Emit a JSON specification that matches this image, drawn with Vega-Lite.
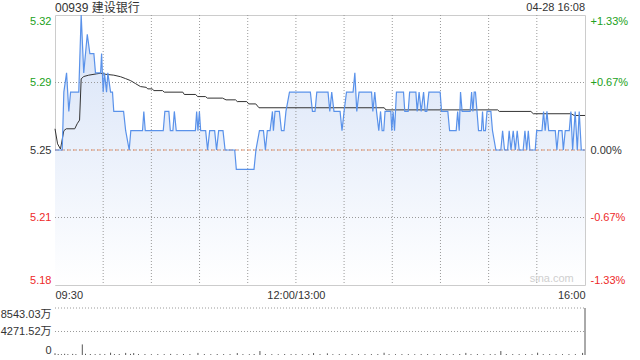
{
  "$schema": "https://vega.github.io/schema/vega-lite/v6.json",
  "padding": {"left": 0, "top": 1, "right": 4, "bottom": 2},
  "background": "white",
  "config": {
    "font": "Liberation Sans, Noto Sans CJK SC",
    "axis": {"labelFont": "Liberation Sans, Noto Sans CJK SC", "labelFontSize": 11, "labelColor": "#333333", "ticks": false, "domain": false, "grid": false, "title": null, "labelOverlap": false},
    "view": {"stroke": "#cccccc"}
  },
  "datasets": {
    "gx": [{"t":30},{"t":60},{"t":90},{"t":120},{"t":150},{"t":180},{"t":210},{"t":240},{"t":270},{"t":300}],
    "gy": [{"g":5.215},{"g":5.25},{"g":5.285}],
    "gv": [{"g":4271.52},{"g":8543.03}],
    "price": [
      {"t":0,"p":5.25},{"t":4.5,"p":5.25},{"t":5.5,"p":5.28},{"t":7.2,"p":5.29},{"t":8.6,"p":5.27},{"t":9.7,"p":5.28},{"t":14.8,"p":5.28},{"t":16.3,"p":5.32},{"t":17.9,"p":5.29},{"t":20.1,"p":5.31},{"t":21.7,"p":5.30},{"t":24.2,"p":5.30},{"t":25.2,"p":5.29},{"t":28.4,"p":5.29},{"t":29.0,"p":5.30},{"t":30.0,"p":5.28},{"t":30.8,"p":5.29},{"t":32.1,"p":5.28},{"t":32.9,"p":5.29},{"t":34.6,"p":5.28},{"t":35.8,"p":5.28},{"t":36.6,"p":5.27},{"t":42.7,"p":5.27},{"t":44.0,"p":5.26},{"t":46.2,"p":5.25},{"t":47.2,"p":5.26},{"t":54.5,"p":5.26},{"t":55.3,"p":5.27},{"t":56.2,"p":5.26},{"t":67.4,"p":5.26},{"t":68.4,"p":5.27},{"t":70.9,"p":5.27},{"t":71.8,"p":5.26},{"t":73.4,"p":5.26},{"t":74.3,"p":5.27},{"t":75.5,"p":5.26},{"t":87.4,"p":5.26},{"t":88.2,"p":5.27},{"t":89.0,"p":5.26},{"t":89.9,"p":5.27},{"t":90.7,"p":5.26},{"t":93.8,"p":5.26},{"t":95.0,"p":5.25},{"t":96.3,"p":5.26},{"t":99.4,"p":5.26},{"t":100.6,"p":5.25},{"t":101.9,"p":5.26},{"t":104.6,"p":5.26},{"t":105.9,"p":5.25},{"t":111.9,"p":5.25},{"t":112.9,"p":5.24},{"t":123.9,"p":5.24},{"t":125.1,"p":5.25},{"t":127.3,"p":5.26},{"t":129.8,"p":5.26},{"t":131.0,"p":5.25},{"t":132.2,"p":5.26},{"t":133.9,"p":5.26},{"t":135.4,"p":5.27},{"t":136.0,"p":5.26},{"t":137.0,"p":5.27},{"t":139.7,"p":5.27},{"t":141.0,"p":5.26},{"t":142.6,"p":5.26},{"t":143.8,"p":5.27},{"t":146.0,"p":5.28},{"t":159.0,"p":5.28},{"t":160.3,"p":5.27},{"t":161.9,"p":5.27},{"t":163.0,"p":5.28},{"t":170.0,"p":5.28},{"t":171.1,"p":5.27},{"t":172.3,"p":5.28},{"t":173.7,"p":5.27},{"t":177.5,"p":5.27},{"t":178.7,"p":5.26},{"t":180.0,"p":5.27},{"t":181.5,"p":5.28},{"t":185.6,"p":5.28},{"t":186.7,"p":5.29},{"t":187.9,"p":5.27},{"t":189.3,"p":5.28},{"t":197.1,"p":5.28},{"t":197.9,"p":5.27},{"t":199.1,"p":5.28},{"t":200.2,"p":5.27},{"t":201.6,"p":5.26},{"t":202.7,"p":5.27},{"t":203.7,"p":5.26},{"t":204.7,"p":5.26},{"t":205.5,"p":5.27},{"t":209.1,"p":5.27},{"t":209.7,"p":5.26},{"t":210.5,"p":5.27},{"t":211.4,"p":5.26},{"t":212.6,"p":5.28},{"t":217.0,"p":5.28},{"t":217.8,"p":5.27},{"t":219.9,"p":5.27},{"t":220.8,"p":5.28},{"t":224.7,"p":5.28},{"t":225.5,"p":5.27},{"t":226.7,"p":5.28},{"t":228.0,"p":5.27},{"t":229.5,"p":5.28},{"t":230.5,"p":5.27},{"t":231.5,"p":5.27},{"t":232.8,"p":5.28},{"t":239.8,"p":5.28},{"t":240.7,"p":5.27},{"t":244.6,"p":5.27},{"t":245.7,"p":5.26},{"t":249.8,"p":5.26},{"t":250.7,"p":5.27},{"t":251.7,"p":5.26},{"t":252.5,"p":5.28},{"t":253.5,"p":5.27},{"t":258.5,"p":5.27},{"t":259.4,"p":5.28},{"t":260.2,"p":5.27},{"t":261.0,"p":5.28},{"t":261.8,"p":5.28},{"t":263.7,"p":5.26},{"t":265.5,"p":5.26},{"t":266.2,"p":5.27},{"t":266.9,"p":5.26},{"t":268.0,"p":5.26},{"t":269.0,"p":5.27},{"t":271.4,"p":5.27},{"t":272.4,"p":5.26},{"t":274.5,"p":5.25},{"t":277.6,"p":5.25},{"t":278.7,"p":5.26},{"t":279.9,"p":5.25},{"t":281.8,"p":5.25},{"t":282.8,"p":5.26},{"t":283.9,"p":5.25},{"t":285.3,"p":5.26},{"t":286.6,"p":5.25},{"t":287.8,"p":5.26},{"t":289.0,"p":5.25},{"t":291.5,"p":5.25},{"t":292.6,"p":5.26},{"t":293.7,"p":5.25},{"t":294.7,"p":5.26},{"t":295.7,"p":5.25},{"t":299.0,"p":5.25},{"t":299.9,"p":5.26},{"t":303.2,"p":5.26},{"t":304.2,"p":5.27},{"t":305.2,"p":5.26},{"t":306.3,"p":5.27},{"t":307.4,"p":5.26},{"t":311.5,"p":5.26},{"t":312.5,"p":5.25},{"t":313.6,"p":5.26},{"t":315.7,"p":5.26},{"t":316.5,"p":5.25},{"t":317.7,"p":5.26},{"t":320.2,"p":5.26},{"t":321.2,"p":5.27},{"t":322.3,"p":5.25},{"t":323.9,"p":5.27},{"t":325.2,"p":5.25},{"t":326.4,"p":5.27},{"t":327.7,"p":5.25},{"t":330,"p":5.25}
    ],
    "avg": [
      {"t":0,"a":5.261},{"t":1.6,"a":5.2532},{"t":3.4,"a":5.2505},{"t":5.5,"a":5.260},{"t":7,"a":5.261},{"t":12.3,"a":5.261},{"t":13.8,"a":5.2636},{"t":15.3,"a":5.2655},{"t":16.3,"a":5.2869},{"t":17.9,"a":5.2881},{"t":21,"a":5.2888},{"t":26,"a":5.2895},{"t":28.4,"a":5.2898},{"t":31,"a":5.2893},{"t":36.6,"a":5.2888},{"t":40.8,"a":5.288},{"t":44,"a":5.287},{"t":47,"a":5.286},{"t":50,"a":5.2845},{"t":53.2,"a":5.2829},{"t":56.7,"a":5.2825},{"t":57.8,"a":5.2817},{"t":60.6,"a":5.2817},{"t":61.5,"a":5.2808},{"t":67,"a":5.2808},{"t":68,"a":5.28},{"t":79.6,"a":5.28},{"t":80.5,"a":5.2788},{"t":87.6,"a":5.2788},{"t":88.8,"a":5.2777},{"t":93.7,"a":5.2777},{"t":94.9,"a":5.2769},{"t":104.3,"a":5.2769},{"t":106.5,"a":5.276},{"t":112.4,"a":5.276},{"t":113.5,"a":5.2751},{"t":119.4,"a":5.2751},{"t":120.6,"a":5.2739},{"t":125,"a":5.2739},{"t":127,"a":5.2719},{"t":205,"a":5.2719},{"t":206,"a":5.2708},{"t":275.6,"a":5.2708},{"t":276.6,"a":5.27},{"t":296.3,"a":5.27},{"t":297.8,"a":5.2688},{"t":321.3,"a":5.2688},{"t":323.3,"a":5.2679},{"t":330,"a":5.2679}
    ],
    "vol": [
      {"t":0,"v":320},{"t":2,"v":180},{"t":4,"v":150},{"t":6,"v":220},{"t":8,"v":160},{"t":11,"v":200},{"t":13,"v":170},{"t":17,"v":1925},{"t":19,"v":220},{"t":22,"v":180},{"t":25,"v":160},{"t":28,"v":200},{"t":31,"v":170},{"t":34.6,"v":420},{"t":37,"v":160},{"t":40,"v":180},{"t":44,"v":380},{"t":47,"v":200},{"t":49,"v":350},{"t":52,"v":160},{"t":56,"v":180},{"t":60,"v":150},{"t":64,"v":170},{"t":68,"v":160},{"t":72,"v":200},{"t":76,"v":150},{"t":80,"v":170},{"t":84,"v":160},{"t":89,"v":380},{"t":93,"v":170},{"t":97,"v":150},{"t":101,"v":180},{"t":105,"v":160},{"t":109,"v":170},{"t":113.5,"v":350},{"t":117,"v":160},{"t":121,"v":150},{"t":124,"v":180},{"t":127.6,"v":720},{"t":131,"v":170},{"t":135,"v":160},{"t":139,"v":150},{"t":143,"v":180},{"t":147,"v":160},{"t":150,"v":170},{"t":154,"v":160},{"t":158,"v":150},{"t":161,"v":350},{"t":165,"v":160},{"t":169.6,"v":300},{"t":173,"v":150},{"t":177,"v":170},{"t":181,"v":160},{"t":185,"v":180},{"t":189,"v":150},{"t":193,"v":170},{"t":197,"v":160},{"t":201,"v":170},{"t":204.9,"v":410},{"t":208,"v":160},{"t":212,"v":150},{"t":216,"v":170},{"t":220,"v":160},{"t":224,"v":150},{"t":228,"v":170},{"t":232,"v":160},{"t":236,"v":150},{"t":240,"v":160},{"t":244,"v":170},{"t":248,"v":160},{"t":252,"v":180},{"t":255.8,"v":380},{"t":259,"v":160},{"t":263,"v":170},{"t":267,"v":150},{"t":271,"v":160},{"t":274,"v":170},{"t":277.6,"v":720},{"t":281,"v":180},{"t":285,"v":160},{"t":289,"v":170},{"t":293,"v":160},{"t":297,"v":150},{"t":300.5,"v":420},{"t":304,"v":160},{"t":308,"v":170},{"t":312,"v":160},{"t":316,"v":150},{"t":320,"v":170},{"t":324,"v":160},{"t":328.5,"v":380},{"t":330,"v":8543.03}
    ]
  },
  "bounds": "flush",
  "spacing": 23,
  "resolve": {"scale": {"x": "independent"}, "axis": {"x": "independent"}},
  "vconcat": [
    {
      "width": 530,
      "height": 270,
      "resolve": {"scale": {"y": "independent"}},
      "layer": [
        {
          "data": {"name": "price"},
          "mark": {"type": "area", "color": {"gradient": "linear", "x1": 0, "y1": 0, "x2": 0, "y2": 1, "stops": [{"offset": 0, "color": "#d6e2f7"}, {"offset": 1, "color": "#ffffff"}]}},
          "encoding": {
            "x": {"field": "t", "type": "quantitative", "scale": {"domain": [0, 330], "nice": false, "zero": false},
              "axis": {"values": [0, 150, 330], "labelExpr": "datum.value == 0 ? '09:30' : datum.value == 150 ? '12:00/13:00' : '16:00'", "labelFlush": true, "labelPadding": 4}},
            "y": {"field": "p", "type": "quantitative", "scale": {"domain": [5.18, 5.32], "nice": false, "zero": false},
              "axis": {"orient": "left", "values": [5.18, 5.215, 5.25, 5.285, 5.32], "labelExpr": "datum.value > 5.3 ? '5.32' : datum.value > 5.27 ? '5.29' : datum.value > 5.24 ? '5.25' : datum.value > 5.2 ? '5.21' : '5.18'", "labelFlush": true, "labelPadding": 4,
                "labelColor": {"condition": [{"test": "datum.value > 5.251", "value": "#21a121"}, {"test": "datum.value < 5.249", "value": "#ee2a2a"}], "value": "#333333"}}},
            "y2": {"datum": 5.18}
          }
        },
        {
          "data": {"name": "gx"},
          "mark": {"type": "rule", "color": "#9a9a9a", "strokeDash": [1, 2], "strokeWidth": 1},
          "encoding": {"x": {"field": "t", "type": "quantitative"}}
        },
        {
          "data": {"name": "gy"},
          "mark": {"type": "rule", "color": "#9a9a9a", "strokeDash": [1, 2], "strokeWidth": 1},
          "encoding": {
            "x": {"datum": 0, "type": "quantitative"},
            "x2": {"datum": 330},
            "y": {"field": "g", "type": "quantitative", "scale": {"domain": [5.18, 5.32], "nice": false, "zero": false}, "axis": null}
          }
        },
        {
          "data": {"values": [{}]},
          "mark": {"type": "rule", "color": "#e8956f", "strokeDash": [3, 3], "strokeWidth": 1},
          "encoding": {
            "x": {"datum": 0, "type": "quantitative"},
            "x2": {"datum": 330},
            "y": {"datum": 5.25, "type": "quantitative", "scale": {"domain": [5.18, 5.32], "nice": false, "zero": false}, "axis": null}
          }
        },
        {
          "data": {"name": "avg"},
          "mark": {"type": "line", "color": "#333333", "strokeWidth": 1},
          "encoding": {
            "x": {"field": "t", "type": "quantitative"},
            "y": {"field": "a", "type": "quantitative", "scale": {"domain": [5.18, 5.32], "nice": false, "zero": false},
              "axis": {"orient": "right", "values": [5.18, 5.215, 5.25, 5.285, 5.32], "labelExpr": "datum.value > 5.3 ? '+1.33%' : datum.value > 5.27 ? '+0.67%' : datum.value > 5.24 ? '0.00%' : datum.value > 5.2 ? '-0.67%' : '-1.33%'", "labelFlush": true, "labelPadding": 5,
                "labelColor": {"condition": [{"test": "datum.value > 5.251", "value": "#21a121"}, {"test": "datum.value < 5.249", "value": "#ee2a2a"}], "value": "#333333"}}}
          }
        },
        {
          "data": {"name": "price"},
          "mark": {"type": "line", "color": "#5a92ea", "strokeWidth": 1.2},
          "encoding": {
            "x": {"field": "t", "type": "quantitative"},
            "y": {"field": "p", "type": "quantitative", "scale": {"domain": [5.18, 5.32], "nice": false, "zero": false}, "axis": null}
          }
        },
        {
          "data": {"values": [{"s": "04-28 16:08"}]},
          "mark": {"type": "text", "align": "right", "baseline": "middle", "dy": -7, "fontSize": 11, "color": "#333333"},
          "encoding": {
            "x": {"datum": 330, "type": "quantitative"},
            "y": {"datum": 5.32, "type": "quantitative", "scale": {"domain": [5.18, 5.32], "nice": false, "zero": false}, "axis": null},
            "text": {"field": "s"}
          }
        },
        {
          "data": {"values": [{"s": "00939 建设银行"}]},
          "mark": {"type": "text", "align": "left", "baseline": "middle", "dy": -7, "fontSize": 12, "color": "#333333"},
          "encoding": {
            "x": {"datum": 0, "type": "quantitative"},
            "y": {"datum": 5.32, "type": "quantitative", "scale": {"domain": [5.18, 5.32], "nice": false, "zero": false}, "axis": null},
            "text": {"field": "s"}
          }
        },
        {
          "data": {"values": [{"s": "sina.com"}]},
          "mark": {"type": "text", "align": "right", "baseline": "middle", "fontSize": 11, "color": "#cfcfcf"},
          "encoding": {
            "x": {"datum": 323, "type": "quantitative"},
            "y": {"datum": 5.183, "type": "quantitative", "scale": {"domain": [5.18, 5.32], "nice": false, "zero": false}, "axis": null},
            "text": {"field": "s"}
          }
        }
      ]
    },
    {
      "width": 530,
      "height": 47,
      "view": {"stroke": null},
      "resolve": {"scale": {"y": "independent"}},
      "layer": [
        {
          "data": {"name": "gv"},
          "mark": {"type": "rule", "color": "#9a9a9a", "strokeDash": [1, 2], "strokeWidth": 1},
          "encoding": {
            "x": {"datum": 0, "type": "quantitative", "scale": {"domain": [0, 330], "nice": false, "zero": false}, "axis": null},
            "x2": {"datum": 330},
            "y": {"field": "g", "type": "quantitative", "scale": {"domain": [0, 8543.03], "nice": false}, "axis": null}
          }
        },
        {
          "data": {"name": "vol"},
          "mark": {"type": "rule", "color": "#555555", "strokeWidth": 1},
          "encoding": {
            "x": {"field": "t", "type": "quantitative", "scale": {"domain": [0, 330], "nice": false, "zero": false}, "axis": null},
            "y": {"field": "v", "type": "quantitative", "scale": {"domain": [0, 8543.03], "nice": false},
              "axis": {"values": [0, 4271.52, 8543.03], "labelExpr": "datum.value == 0 ? '0' : datum.value < 5000 ? '4271.52万' : '8543.03万'", "labelFlush": true, "labelPadding": 4, "labelOverlap": false}},
            "y2": {"datum": 0}
          }
        }
      ]
    }
  ]
}
